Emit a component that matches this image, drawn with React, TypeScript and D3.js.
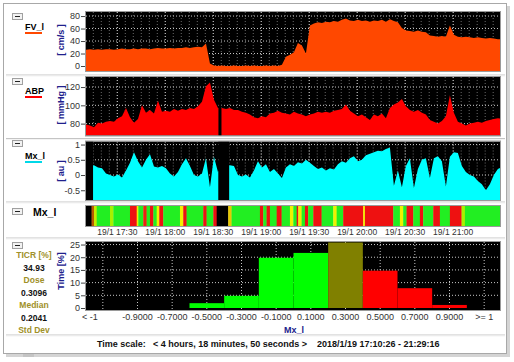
import React, { useEffect, useRef } from 'react';
import * as d3 from 'd3';

// recording window
const START = new Date(2018, 0, 19, 17, 10, 26);
const END = new Date(2018, 0, 19, 21, 29, 16);
const STEP_MIN = 2.5; // one sample every 2.5 minutes

const fvValues = [
  26, 27, 26, 27, 26, 27, 27, 26, 27, 28, 27, 27, 28, 27, 28, 28, 27, 28, 29, 28,
  28, 29, 28, 29, 29, 30, 29, 30, 31, 30, 36, 4, 1, 0, 1, 0, 0, 1, 0, 0,
  1, 0, 1, 0, 0, 1, 0, 1, 0, 2, 15, 18, 22, 37, 33, 20, 65, 68, 70, 69,
  71, 70, 72, 71, 74, 76, 73, 72, 74, 72, 73, 71, 73, 72, 74, 71, 75, 72, 70, 61,
  57, 56, 55, 57, 55, 54, 49, 48, 47, 48, 47, 65, 50, 47, 46, 47, 46, 45, 46, 45,
  44, 45, 44, 43, 43,
];

const abpValues = [
  79, 78, 76, 81, 80, 82, 83, 82, 86, 88, 97, 87, 81, 85, 100, 92, 95, 91, 105, 93,
  94, 93, 96, 94, 96, 95, 97, 96, 99, 104, 121, 125, 106, 97, 97, 96, 97, 95, 95, 93,
  92, 90, 87, 86, 88, 87, 91, 92, 94, 92, 91, 90, 93, 91, 90, 88, 90, 91, 93, 92,
  93, 92, 94, 95, 96, 101, 94, 91, 88, 90, 87, 84, 90, 88, 91, 86, 97, 101, 103, 107,
  99, 95, 93, 95, 92, 90, 84, 82, 80, 83, 88, 111, 92, 82, 80, 78, 80, 81, 82, 81,
  83, 84, 85, 86, 85,
];

const mxValues = [
  0.3, 0.3, 0.32, 0.25, 0.22, 0.05, 0.0, -0.05, 0.02, -0.08,
  0.15, 0.4, 0.75, 0.45, 0.25, 0.5, 0.68, 0.28, 0.25, 0.3,
  0.22, 0.05, -0.05, 0.1, 0.35, 0.55, 0.3, 0.0, -0.05, 0.05,
  0.55, -0.4, 0.6, 0.1, 0.3, 0.3, 0.32, 0.3, 0.0, -0.05,
  0.02, -0.08, 0.15, 0.45, 0.25, 0.35, 0.1, 0.2, 0.05, -0.1,
  0.25, 0.35, 0.3, 0.42, 0.38, 0.5, 0.4, 0.3, 0.2, 0.25,
  0.15, 0.22, 0.18, 0.35, 0.45, 0.4, 0.55, 0.62, 0.45, 0.5,
  0.65, 0.7, 0.75, 0.8, 0.78, 0.85, 0.9, -0.35, 0.15, -0.4,
  0.3, 0.55, -0.43, 0.2, 0.5, 0.55, -0.1, 0.55, 0.62, 0.45,
  -0.38, 0.6, 0.75, 0.72, 0.3, 0.1, 0.0, -0.05, -0.2, -0.3,
  -0.5, -0.3, 0.0, 0.2, 0.25,
];

// missing data, minutes from start
const abpGaps = [[82.8, 84.7]];
const mxGaps = [[0, 4.4], [82.7, 89.5]];

// Mx colour bar: segment start (minutes) and zone colour
const barStarts = [
  0, 3.5, 5.0, 6.7, 15, 17.1, 27.5, 31.7, 32.7, 35.8, 37.9, 40, 42.1, 44.2, 45.8, 48.3,
  58.75, 60.8, 62.9, 73.3, 75.4, 79.6, 81.7, 88.9, 91, 108.75, 110.8, 112.9, 115, 119.2,
  122.3, 127.5, 129.6, 131.7, 132.7, 134.8, 136.9, 138.9, 142.1, 147.3, 154.6, 156.7,
  160.8, 173.3, 174.4, 192.1, 196.25, 198.3, 200.4, 204.6, 208.75, 210.8, 217.1, 221.25,
  227.5, 234.8, 236.9,
];
const barColors = [
  '#000000', '#b85a00', '#c8e800', '#22ee22', '#a8f000', '#22ee22', '#ee1111', '#f0f000',
  '#22ee22', '#ee2211', '#22ee22', '#ee1111', '#22ee22', '#f0f000', '#ee1111', '#22ee22',
  '#f0f000', '#ee1111', '#22ee22', '#ee1111', '#22ee22', '#ee1111', '#000000', '#e8c800',
  '#22ee22', '#ee1111', '#22ee22', '#ee1111', '#22ee22', '#ee1111', '#22ee22', '#f0f000',
  '#22ee22', '#ee1111', '#f0f000', '#22ee22', '#ee1111', '#22ee22', '#ee1111', '#22ee22',
  '#f0f000', '#22ee22', '#ee1111', '#f0f000', '#ee1111', '#22ee22', '#f0f000', '#22ee22',
  '#ee1111', '#22ee22', '#ee1111', '#22ee22', '#ee1111', '#22ee22', '#ee1111', '#a8f000',
  '#22ee22',
];

const histLabels = ['< -1', '-0.9000', '-0.7000', '-0.5000', '-0.3000', '-0.1000',
  '0.1000', '0.3000', '0.5000', '0.7000', '0.9000', '>= 1'];
const histValues = [0, 0, 0, 1.9, 4.8, 19.8, 21.7, 25.8, 14.7, 7.8, 1.2, 0];
const histColors = ['#00ff00', '#00ff00', '#00ff00', '#00ff00', '#00ff00', '#00ff00',
  '#00ff00', '#808000', '#ff0000', '#ff0000', '#ff0000', '#ff0000'];

const statLabels = ['TICR [%]', 'Dose', 'Median', 'Std Dev'];
const statValues = ['34.93', '0.3096', '0.2041', ''];

const FONT = "'Liberation Sans', Arial, sans-serif";
const NAVY = '#20208c';

export default function App() {
  const ref = useRef<SVGSVGElement>(null);

  useEffect(() => {
    const svg = d3.select(ref.current);
    svg.selectAll('*').remove();
    svg.attr('font-family', FONT);

    const x = d3.scaleTime().domain([START, END]).range([86, 500]);
    const tm = (m: number) => new Date(START.getTime() + m * 60000);

    // window frame
    svg.append('rect').attr('x', 6).attr('y', 6).attr('width', 504).attr('height', 351).attr('fill', '#d4d4d4');
    svg.append('rect').attr('x', 3.5).attr('y', 3.5).attr('width', 503).attr('height', 350)
      .attr('fill', '#fff').attr('stroke', '#a8a8a8');
    svg.append('rect').attr('x', 23).attr('y', 354).attr('width', 11).attr('height', 3).attr('fill', '#c4c4c4');

    [75, 138.5, 202, 238, 335].forEach(yy => {
      svg.append('line').attr('x1', 6).attr('x2', 505).attr('y1', yy).attr('y2', yy).attr('stroke', '#c4c4c4');
      svg.append('line').attr('x1', 6).attr('x2', 505).attr('y1', yy + 1).attr('y2', yy + 1).attr('stroke', '#f4f4f4');
    });

    const button = (by: number) => {
      svg.append('rect').attr('x', 12.5).attr('y', by + 0.5).attr('width', 10).attr('height', 6)
        .attr('fill', '#f2f2f2').attr('stroke', '#a0a0a0');
      svg.append('line').attr('x1', 15).attr('x2', 20).attr('y1', by + 3.5).attr('y2', by + 3.5).attr('stroke', '#222');
    };

    const minorTicks = x.ticks(d3.timeMinute.every(5) as d3.TimeInterval);
    const majorTicks = x.ticks(d3.timeMinute.every(30) as d3.TimeInterval);

    const panels = [
      { name: 'FV_l', unit: '[ cm/s ]', color: '#ff4800', values: fvValues, domain: [-8, 86.5],
        top: 12, bottom: 71, ticks: [0, 20, 40, 60, 80], nameY: 30, unitY: 40, btnY: 13, gaps: [] as number[][] },
      { name: 'ABP', unit: '[ mmHg ]', color: '#ff0000', values: abpValues, domain: [67, 131],
        top: 77, bottom: 135.5, ticks: [80, 100, 120], nameY: 94, unitY: 105, btnY: 78, gaps: abpGaps },
      { name: 'Mx_l', unit: '[ au ]', color: '#00ffff', values: mxValues, domain: [-0.82, 1.1],
        top: 141.5, bottom: 200, ticks: [-0.5, 0, 0.5, 1], nameY: 159, unitY: 171, btnY: 140, gaps: mxGaps },
    ];

    panels.forEach((p, pi) => {
      const y = d3.scaleLinear().domain(p.domain).range([p.bottom, p.top]);
      const g = svg.append('g');
      g.append('rect').attr('x', 86).attr('y', p.top).attr('width', 414).attr('height', p.bottom - p.top).attr('fill', '#000');

      g.selectAll('.minor').data(minorTicks).join('line')
        .attr('x1', d => x(d)).attr('x2', d => x(d)).attr('y1', p.top).attr('y2', p.bottom)
        .attr('stroke', '#6a6a6a').attr('stroke-dasharray', '1,2');
      g.selectAll('.major').data(majorTicks).join('line')
        .attr('x1', d => x(d)).attr('x2', d => x(d)).attr('y1', p.top).attr('y2', p.bottom)
        .attr('stroke', '#c8c8c8').attr('stroke-dasharray', '1,2');
      g.selectAll('.hgrid').data(p.ticks).join('line')
        .attr('x1', 86).attr('x2', 500).attr('y1', d => y(d)).attr('y2', d => y(d))
        .attr('stroke', '#c8c8c8').attr('stroke-dasharray', '1,2');

      const clipId = 'clip' + pi;
      svg.append('clipPath').attr('id', clipId).append('rect')
        .attr('x', 86).attr('y', p.top).attr('width', 414).attr('height', p.bottom - p.top);

      const area = d3.area<number>()
        .x((d, i) => x(tm(i * STEP_MIN)))
        .y0(p.bottom)
        .y1(d => y(d));
      g.append('path').datum(p.values).attr('d', area).attr('fill', p.color).attr('clip-path', `url(#${clipId})`);

      g.selectAll('.gap').data(p.gaps).join('rect')
        .attr('x', d => x(tm(d[0]))).attr('width', d => x(tm(d[1])) - x(tm(d[0])))
        .attr('y', p.top).attr('height', p.bottom - p.top).attr('fill', '#000');

      g.append('rect').attr('x', 85.5).attr('y', p.top - 0.5).attr('width', 415).attr('height', p.bottom - p.top + 1)
        .attr('fill', 'none').attr('stroke', '#9a9a9a');

      const axis = g.append('g').attr('transform', 'translate(85,0)')
        .call(d3.axisLeft(y).tickValues(p.ticks).tickSize(4).tickPadding(1).tickFormat(d => String(d)));
      axis.select('.domain').remove();
      axis.selectAll('line').attr('stroke', '#444');
      axis.selectAll('text').attr('font-size', 9).attr('font-family', FONT).attr('fill', '#333');

      button(p.btnY);
      g.append('text').attr('x', 25).attr('y', p.nameY).attr('font-size', 9).attr('font-weight', 'bold').text(p.name);
      g.append('line').attr('x1', 25).attr('x2', 42).attr('y1', p.nameY + 3).attr('y2', p.nameY + 3)
        .attr('stroke', p.color === '#00ffff' ? '#00d8e8' : p.color).attr('stroke-width', 2);
      g.append('text').attr('transform', `translate(64,${p.unitY}) rotate(-90)`)
        .attr('text-anchor', 'middle').attr('font-size', 9).attr('font-weight', 'bold').attr('fill', NAVY).text(p.unit);
    });

    // Mx colour bar
    const bar = svg.append('g');
    bar.selectAll('rect').data(barStarts).join('rect')
      .attr('x', d => x(tm(d)))
      .attr('width', (d, i) => x(i + 1 < barStarts.length ? tm(barStarts[i + 1]) : END) - x(tm(d)) + 0.3)
      .attr('y', 206).attr('height', 20)
      .attr('fill', (d, i) => barColors[i]);
    bar.append('rect').attr('x', 85.5).attr('y', 205.5).attr('width', 415).attr('height', 21)
      .attr('fill', 'none').attr('stroke', '#9a9a9a');
    const fmt = d3.timeFormat('%-d/%-m %H:%M');
    bar.selectAll('.tl').data(majorTicks).join('text')
      .attr('x', d => x(d)).attr('y', 235).attr('text-anchor', 'middle')
      .attr('font-size', 8.5).attr('fill', '#333').text(d => fmt(d));
    button(208);
    bar.append('text').attr('x', 33).attr('y', 216).attr('font-size', 10.5).attr('font-weight', 'bold').text('Mx_l');

    // histogram
    const hx = d3.scaleBand().domain(histLabels).range([85.5, 501.5]).padding(0);
    const hy = d3.scaleLinear().domain([0, 26]).range([308, 242]);
    const h = svg.append('g');
    h.append('rect').attr('x', 86).attr('y', 242).attr('width', 414).attr('height', 68).attr('fill', '#000');
    h.selectAll('.hg').data([5, 10, 15, 20, 25]).join('line')
      .attr('x1', 86).attr('x2', 500).attr('y1', d => hy(d)).attr('y2', d => hy(d))
      .attr('stroke', '#c8c8c8').attr('stroke-dasharray', '1,2');
    h.selectAll('.vg').data(histLabels).join('line')
      .attr('x1', d => hx(d)! + hx.bandwidth() / 2).attr('x2', d => hx(d)! + hx.bandwidth() / 2)
      .attr('y1', 242).attr('y2', 310)
      .attr('stroke', '#c8c8c8').attr('stroke-dasharray', '1,2');
    h.selectAll('.bar').data(histValues).join('rect')
      .attr('x', (d, i) => hx(histLabels[i])!).attr('width', hx.bandwidth())
      .attr('y', d => hy(d)).attr('height', d => hy(0) - hy(d))
      .attr('fill', (d, i) => histColors[i]);
    h.append('rect').attr('x', 85.5).attr('y', 241.5).attr('width', 415).attr('height', 69)
      .attr('fill', 'none').attr('stroke', '#9a9a9a');
    const hAxis = h.append('g').attr('transform', 'translate(85,0)')
      .call(d3.axisLeft(hy).tickValues([0, 5, 10, 15, 20, 25]).tickSize(4).tickPadding(1));
    hAxis.select('.domain').remove();
    hAxis.selectAll('line').attr('stroke', '#444');
    hAxis.selectAll('text').attr('font-size', 9).attr('font-family', FONT).attr('fill', '#333');
    h.selectAll('.hl').data(histLabels).join('text')
      .attr('x', (d, i) => hx(d)! + hx.bandwidth() / 2 + (i === 0 ? -13 : 0))
      .attr('y', 320).attr('text-anchor', 'middle').attr('font-size', 9).attr('fill', '#333').text(d => d);
    h.append('text').attr('x', 294).attr('y', 333).attr('text-anchor', 'middle')
      .attr('font-size', 9).attr('font-weight', 'bold').attr('fill', NAVY).text('Mx_l');
    h.append('text').attr('transform', 'translate(64,271) rotate(-90)').attr('text-anchor', 'middle')
      .attr('font-size', 9).attr('font-weight', 'bold').attr('fill', NAVY).text('Time [%]');
    button(242);

    statLabels.forEach((s, i) => {
      h.append('text').attr('x', 34).attr('y', 258 + i * 25).attr('text-anchor', 'middle')
        .attr('font-size', 8.5).attr('font-weight', 'bold').attr('fill', '#a09028').text(s);
      h.append('text').attr('x', 34).attr('y', 271 + i * 25).attr('text-anchor', 'middle')
        .attr('font-size', 8.5).attr('font-weight', 'bold').attr('fill', '#111').text(statValues[i]);
    });

    // status line
    const st = svg.append('g').attr('font-size', 9).attr('font-weight', 'bold').attr('fill', '#111');
    st.append('text').attr('x', 97).attr('y', 347).text('Time scale:');
    st.append('text').attr('x', 153).attr('y', 347).text('< 4 hours, 18 minutes, 50 seconds >');
    st.append('text').attr('x', 317).attr('y', 347).text('2018/1/19 17:10:26 - 21:29:16');
  }, []);

  return (
    <div style={{ position: 'absolute', left: 0, top: 0 }}>
      <svg ref={ref} width={514} height={362} style={{ display: 'block', background: '#fff' }} />
    </div>
  );
}
